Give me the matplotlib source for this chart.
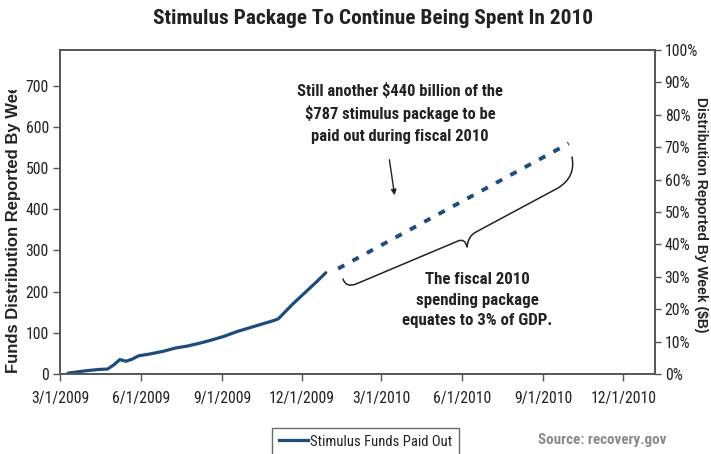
import matplotlib
matplotlib.use("Agg")
import matplotlib.pyplot as plt
import matplotlib.dates as mdates
from matplotlib import font_manager as fm
from matplotlib.path import Path
from matplotlib.patches import PathPatch, FancyArrowPatch
from matplotlib.lines import Line2D
from matplotlib.transforms import Affine2D, Bbox, TransformedBbox
from matplotlib.ticker import FixedLocator, FuncFormatter

# ---------------- data ----------------
paid_dates = ['2009-03-10', '2009-03-20', '2009-03-31', '2009-04-14', '2009-04-24',
              '2009-05-01', '2009-05-08', '2009-05-15', '2009-05-22', '2009-05-29',
              '2009-06-12', '2009-06-26', '2009-07-10', '2009-07-24', '2009-08-07',
              '2009-08-21', '2009-09-04', '2009-09-18', '2009-10-02', '2009-10-16',
              '2009-10-30', '2009-11-04', '2009-11-20', '2009-12-04', '2009-12-18',
              '2009-12-28']
paid_values = [2, 5, 8, 11, 12, 22, 35, 31, 36, 44, 49, 55, 63, 68, 75, 83, 92, 103,
               112, 121, 130, 134, 169, 197, 225, 246]

proj_dates = ['2010-01-11', '2010-09-30']
proj_values = [256, 560]

x_ticks = ['2009-03-01', '2009-06-01', '2009-09-01', '2009-12-01',
           '2010-03-01', '2010-06-01', '2010-09-01', '2010-12-01']
x_tick_labels = ['3/1/2009', '6/1/2009', '9/1/2009', '12/1/2009',
                 '3/1/2010', '6/1/2010', '9/1/2010', '12/1/2010']
y_ticks = [0, 100, 200, 300, 400, 500, 600, 700]
pct_ticks = [0, 10, 20, 30, 40, 50, 60, 70, 80, 90, 100]
total_package = 787

title = 'Stimulus Package To Continue Being Spent In 2010'
note_top = 'Still another $440 billion of the\n$787 stimulus package to be\npaid out during fiscal 2010'
note_bottom = 'The fiscal 2010\nspending package\nequates to 3% of GDP.'
legend_label = 'Stimulus Funds Paid Out'
source = 'Source: recovery.gov'

# ---------------- font choice (narrow if available) ----------------
entries = fm.fontManager.ttflist
names = {f.name for f in entries}
if 'Liberation Sans Narrow' in names:
    FAM = ['Liberation Sans Narrow', 'DejaVu Sans']; K = 1.02
elif 'Roboto Condensed' in names:
    FAM = ['Roboto Condensed', 'DejaVu Sans']; K = 1.0
else:
    FAM = ['Liberation Sans', 'DejaVu Sans']; K = 0.86
plt.rcParams['font.family'] = FAM

# ---------------- figure ----------------
W, H = 711, 454
fig = plt.figure(figsize=(W / 100, H / 100), dpi=100)
fig.patch.set_facecolor('white')
PX = Affine2D().scale(1 / W, -1 / H).translate(0, 1) + fig.transFigure

ax = fig.add_axes([60 / W, 1 - 374 / H, 595 / W, 324 / H])
NAVY = '#1d4c7c'
SP = '#555555'
TXT = '#222222'

pd_ = mdates.datestr2num(paid_dates)
ax.plot(pd_, paid_values, color=NAVY, lw=2.3, solid_joinstyle='round', solid_capstyle='round')
pj = mdates.datestr2num(proj_dates)
ax.plot(pj, proj_values, color=NAVY, lw=2.8, linestyle=(0, (1.8, 2.4)))

ax.set_xlim(mdates.datestr2num('2009-03-01'), mdates.datestr2num('2011-01-06'))
ax.set_ylim(0, total_package)
ax.xaxis.set_major_locator(FixedLocator(mdates.datestr2num(x_ticks)))
ax.set_xticklabels(x_tick_labels)
ax.set_yticks(y_ticks)

TS = 11.3 * K
ax.tick_params(axis='x', direction='out', length=5, width=1, color=SP, pad=7,
               labelsize=TS, labelcolor=TXT)
ax.tick_params(axis='y', direction='out', length=5, width=1, color=SP, pad=3,
               labelsize=TS, labelcolor=TXT)
for s in ['left', 'top', 'bottom', 'right']:
    ax.spines[s].set_color(SP)
    ax.spines[s].set_linewidth(1.2)

ax2 = ax.twinx()
ax2.set_ylim(0, 100)
ax2.set_yticks(pct_ticks)
ax2.yaxis.set_major_formatter(FuncFormatter(lambda v, p: f'{int(v)}%'))
ax2.tick_params(axis='y', direction='out', length=4, width=1, color=SP, pad=3,
                labelsize=TS, labelcolor=TXT)
for s in ['left', 'top', 'bottom', 'right']:
    ax2.spines[s].set_color(SP)
    ax2.spines[s].set_linewidth(1.2)

# ---------------- texts ----------------
fig.text(373 / W, 1 - 19 / H, title, ha='center', va='center', fontsize=15.4 * K,
         fontweight='bold', color=TXT)

fig.text(400 / W, 1 - 113 / H, note_top, ha='center', va='center', fontsize=11.9 * K,
         fontweight='bold', color=TXT, linespacing=1.5)
fig.text(477 / W, 1 - 300 / H, note_bottom, ha='center', va='center', fontsize=12.2 * K,
         fontweight='bold', color=TXT, linespacing=1.45)

yl = fig.text(14 / W, 1 - 373 / H, 'Funds Distribution Reported By Week ($B)',
              rotation=90, ha='center', va='bottom', fontsize=12, fontweight='bold',
              color=TXT, family=['Liberation Sans', 'DejaVu Sans'])
yl.set_clip_box(TransformedBbox(Bbox([[0, 0], [40 / W, 1 - 90 / H]]), fig.transFigure))
yl.set_clip_on(True)

fig.text(701 / W, 1 - 97 / H, 'Distribution Reported By Week ($B)', rotation=-90,
         ha='center', va='top', fontsize=10, fontweight='bold', color=TXT,
         family=['Liberation Sans', 'DejaVu Sans'])

fig.text(602 / W, 1 - 440 / H, source, ha='center', va='center', fontsize=10.9 * K,
         fontweight='bold', color='#8a8a8a')

# ---------------- brace and arrow ----------------
verts = [(343, 279), (346, 288), (356, 284), (458, 241), (465, 238), (467, 247),
         (468, 236), (476, 232), (558, 188), (576, 177), (572, 157)]
codes = [Path.MOVETO, Path.CURVE3, Path.CURVE3, Path.LINETO, Path.CURVE3, Path.CURVE3,
         Path.CURVE3, Path.CURVE3, Path.LINETO, Path.CURVE3, Path.CURVE3]
brace = PathPatch(Path(verts, codes), transform=PX, fill=False, edgecolor='#222222',
                  lw=1.1, capstyle='round', joinstyle='round')
fig.add_artist(brace)

fig.add_artist(FancyArrowPatch(
    (389, 157), (395, 198), transform=PX, arrowstyle='-|>', mutation_scale=8,
    color='#222222', lw=1.0))

# ---------------- legend ----------------
h = Line2D([], [], color=NAVY, lw=2.3)
leg = fig.legend([h], [legend_label], loc='upper left',
                 bbox_to_anchor=(272 / W, 1 - 428 / H), frameon=True, fancybox=False,
                 edgecolor='#444444', borderaxespad=0, handlelength=2.0,
                 handletextpad=0.15, borderpad=0.45, fontsize=10.5 * K)
leg.get_frame().set_linewidth(1.0)
for t in leg.get_texts():
    t.set_color(TXT)

fig.savefig('out.png', dpi=100, facecolor='white')
